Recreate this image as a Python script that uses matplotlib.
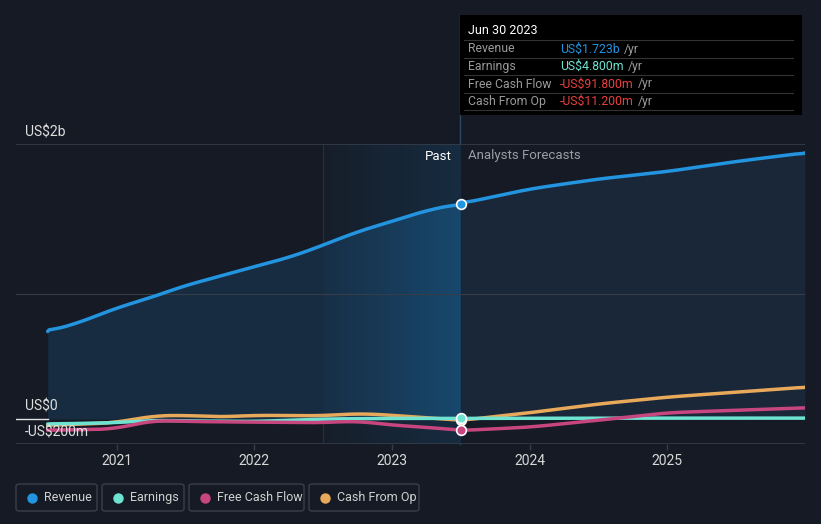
import matplotlib.pyplot as plt
from matplotlib.patches import FancyBboxPatch, Rectangle
from matplotlib.colors import LinearSegmentedColormap
import numpy as np

plt.rcParams['font.family'] = ['Roboto', 'DejaVu Sans']

W, H = 821, 524

# data (US$ billions), dates as decimal years
rev_x = [2020.5, 2020.73, 2021.0, 2021.25, 2021.5, 2021.75, 2022.0, 2022.25,
         2022.5, 2022.75, 2023.0, 2023.25, 2023.5]
rev_y = [0.70, 0.77, 0.89, 0.97, 1.07, 1.14, 1.22, 1.29, 1.39, 1.50, 1.58, 1.67, 1.723]
rev_fx = [2023.5, 2024.0, 2024.5, 2025.0, 2025.5, 2026.0]
rev_fy = [1.723, 1.84, 1.92, 1.98, 2.06, 2.13]

earn_x = [2020.5, 2021.0, 2021.25, 2021.5, 2022.0, 2022.5, 2023.0, 2023.5]
earn_y = [-0.04, -0.03, -0.01, -0.015, -0.02, 0.0, 0.005, 0.0048]
earn_fx = [2023.5, 2024.0, 2025.0, 2026.0]
earn_fy = [0.0048, 0.006, 0.007, 0.007]

fcf_x = [2020.5, 2021.0, 2021.25, 2021.5, 2022.0, 2022.5, 2022.75, 2023.0, 2023.25, 2023.5]
fcf_y = [-0.09, -0.08, -0.01, -0.02, -0.025, -0.03, -0.015, -0.05, -0.065, -0.0918]
fcf_fx = [2023.5, 2024.0, 2024.5, 2025.0, 2025.5, 2026.0]
fcf_fy = [-0.0918, -0.065, -0.01, 0.05, 0.07, 0.09]

cfo_x = [2020.5, 2021.0, 2021.25, 2021.5, 2021.75, 2022.0, 2022.5, 2022.75, 2023.0, 2023.5]
cfo_y = [-0.05, -0.03, 0.025, 0.03, 0.015, 0.03, 0.025, 0.045, 0.03, -0.0112]
cfo_fx = [2023.5, 2024.0, 2024.5, 2025.0, 2025.5, 2026.0]
cfo_fy = [-0.0112, 0.05, 0.12, 0.175, 0.215, 0.255]

years = [2021, 2022, 2023, 2024, 2025]

bg = '#151a24'
c_rev = '#2394df'
c_earn = '#6fe3d2'
c_fcf = '#c8467f'
c_cfo = '#e9a95a'
grid_c = '#363d49'


def smooth(x, y, n=300):
    xs = np.linspace(x[0], x[-1], n)
    ys = np.interp(xs, x, y)
    k = 15
    pad = np.pad(ys, k, mode='edge')
    ys = np.convolve(pad, np.ones(2 * k + 1) / (2 * k + 1), mode='same')[k:-k]
    ys[0], ys[-1] = y[0], y[-1]
    return xs, ys


fig = plt.figure(figsize=(W / 100, H / 100), dpi=100, facecolor=bg)
ax = fig.add_axes([16 / W, (H - 444) / H, (805 - 16) / W, 300 / H])
ax.set_facecolor(bg)
ax.set_xlim(2020.27, 2026.0)
ax.set_ylim(-0.2, 2.2)
for s in ax.spines.values():
    s.set_visible(False)

grad = np.linspace(0, 1, 100).reshape(1, -1)

# highlighted last year of past (background part)
ax.imshow(grad, extent=[2022.5, 2023.5, -0.2, 2.2], aspect='auto',
          cmap=LinearSegmentedColormap.from_list('g', ['#161e2a', '#172c40']), zorder=0.5)
ax.axvline(2022.5, color='#22303f', lw=0.8, zorder=0.6)

# revenue area
rx, ry = smooth(rev_x, rev_y)
fx, fy = smooth(rev_fx, rev_fy)
ax.fill_between(rx, 0, ry, color='#172c40', lw=0, zorder=1)
ax.fill_between(fx, 0, fy, color='#1a2739', lw=0, zorder=1)
m = rx >= 2022.5
hp = ax.fill_between(rx[m], 0, ry[m], color='none', lw=0, zorder=1)
im = ax.imshow(grad, extent=[2022.5, 2023.5, -0.2, 2.2], aspect='auto',
               cmap=LinearSegmentedColormap.from_list('h', ['#172f46', '#18486d']), zorder=1.1)
im.set_clip_path(hp.get_paths()[0], transform=ax.transData)

# gridlines
ax.axhline(1.0, color=grid_c, lw=0.8, zorder=1.2)
ax.axhline(2.2, color=grid_c, lw=1.2, zorder=1.2)
ax.axhline(0.0, color='#e0e0e0', lw=1.0, xmin=0, xmax=(2020.5 - 2020.27) / 5.73, zorder=1.2)
ax.axhline(-0.2, color=grid_c, lw=1.2, zorder=1.2)

for xs_, ys_, fxs, fys, c, z in [
        (cfo_x, cfo_y, cfo_fx, cfo_fy, c_cfo, 3),
        (earn_x, earn_y, earn_fx, earn_fy, c_earn, 3.1),
        (fcf_x, fcf_y, fcf_fx, fcf_fy, c_fcf, 3.2),
        (rev_x, rev_y, rev_fx, rev_fy, c_rev, 3.3)]:
    a, b = smooth(xs_, ys_)
    ax.plot(a, b, color=c, lw=2.5, solid_capstyle='round', zorder=z)
    a, b = smooth(fxs, fys)
    ax.plot(a, b, color=c, lw=2.5, solid_capstyle='round', zorder=z)

# markers at Jun 30 2023
for v, c in [(rev_y[-1], c_rev), (cfo_y[-1], c_cfo), (earn_y[-1], c_earn), (fcf_y[-1], c_fcf)]:
    ax.plot([2023.5], [v], 'o', ms=7, mfc=c, mec='white', mew=1.2, zorder=5)

ax.set_xticks(years)
ax.set_xticklabels([str(y) for y in years])
ax.tick_params(axis='x', colors=grid_c, labelcolor='#d8d8d8', labelsize=10, length=4, width=1, pad=3)
ax.set_yticks([])

# vertical marker line
fig.add_artist(plt.Line2D([460 / W, 460 / W], [(H - 444) / H, (H - 15) / H], color='#2b4a66', lw=1, zorder=0))


def fx_(px):
    return px / W


def fy_(py):
    return (H - py) / H


fig.text(fx_(25), fy_(132), 'US$2b', color='#e0e0e0', fontsize=10, va='center')
fig.text(fx_(25), fy_(407), 'US$0', color='#e0e0e0', fontsize=10, va='center')
fig.text(fx_(25), fy_(432), '-US$200m', color='#e0e0e0', fontsize=10, va='center')

fig.text(fx_(452), fy_(156), 'Past', color='#ffffff', fontsize=9.5, ha='right', va='center')
fig.text(fx_(468), fy_(156), 'Analysts Forecasts', color='#9a9ea6', fontsize=9.5, ha='left', va='center')

# tooltip
fig.add_artist(Rectangle((fx_(460), fy_(115)), (802 - 460) / W, 100 / H, transform=fig.transFigure,
                         facecolor='#000000', edgecolor='none', zorder=6))
fig.text(fx_(468), fy_(31), 'Jun 30 2023', color='white', fontsize=9, va='center', zorder=7)
rows = [('Revenue', 'US$1.723b', c_rev), ('Earnings', 'US$4.800m', c_earn),
        ('Free Cash Flow', '-US$91.800m', '#e8413c'), ('Cash From Op', '-US$11.200m', '#e8413c')]
for i, (lab, val, c) in enumerate(rows):
    yy = 49 + i * 17.5
    fig.add_artist(plt.Line2D([fx_(464), fx_(793)], [fy_(yy - 9), fy_(yy - 9)], color='#333333', lw=0.8, zorder=7))
    fig.text(fx_(468), fy_(yy), lab, color='#9a9a9a', fontsize=8.8, va='center', zorder=7)
    t = fig.text(fx_(560), fy_(yy), val, color=c, fontsize=8.8, va='center', zorder=7)
    fig.canvas.draw()
    bb = t.get_window_extent()
    fig.text(bb.x1 / W + 4 / W, fy_(yy), '/yr', color='#9a9a9a', fontsize=8.8, va='center', zorder=7)
fig.add_artist(plt.Line2D([fx_(464), fx_(793)], [fy_(110), fy_(110)], color='#333333', lw=0.8, zorder=7))

# legend
items = [('Revenue', c_rev, 16, 97), ('Earnings', c_earn, 102, 184),
         ('Free Cash Flow', c_fcf, 189, 304), ('Cash From Op', c_cfo, 309, 419)]
for lab, c, x0, x1 in items:
    fig.add_artist(FancyBboxPatch((fx_(x0), fy_(511)), (x1 - x0) / W, 27 / H,
                                  boxstyle='round,pad=0,rounding_size=0.004', transform=fig.transFigure,
                                  facecolor='none', edgecolor='#3a3f4a', lw=1))
    fig.add_artist(plt.Line2D([fx_(x0 + 16)], [fy_(497.5)], marker='o', ms=6.5, color=c, lw=0))
    fig.text(fx_(x0 + 28), fy_(497.5), lab, color='#d0d0d0', fontsize=9, va='center')

fig.savefig('out.png', dpi=100, facecolor=bg)
